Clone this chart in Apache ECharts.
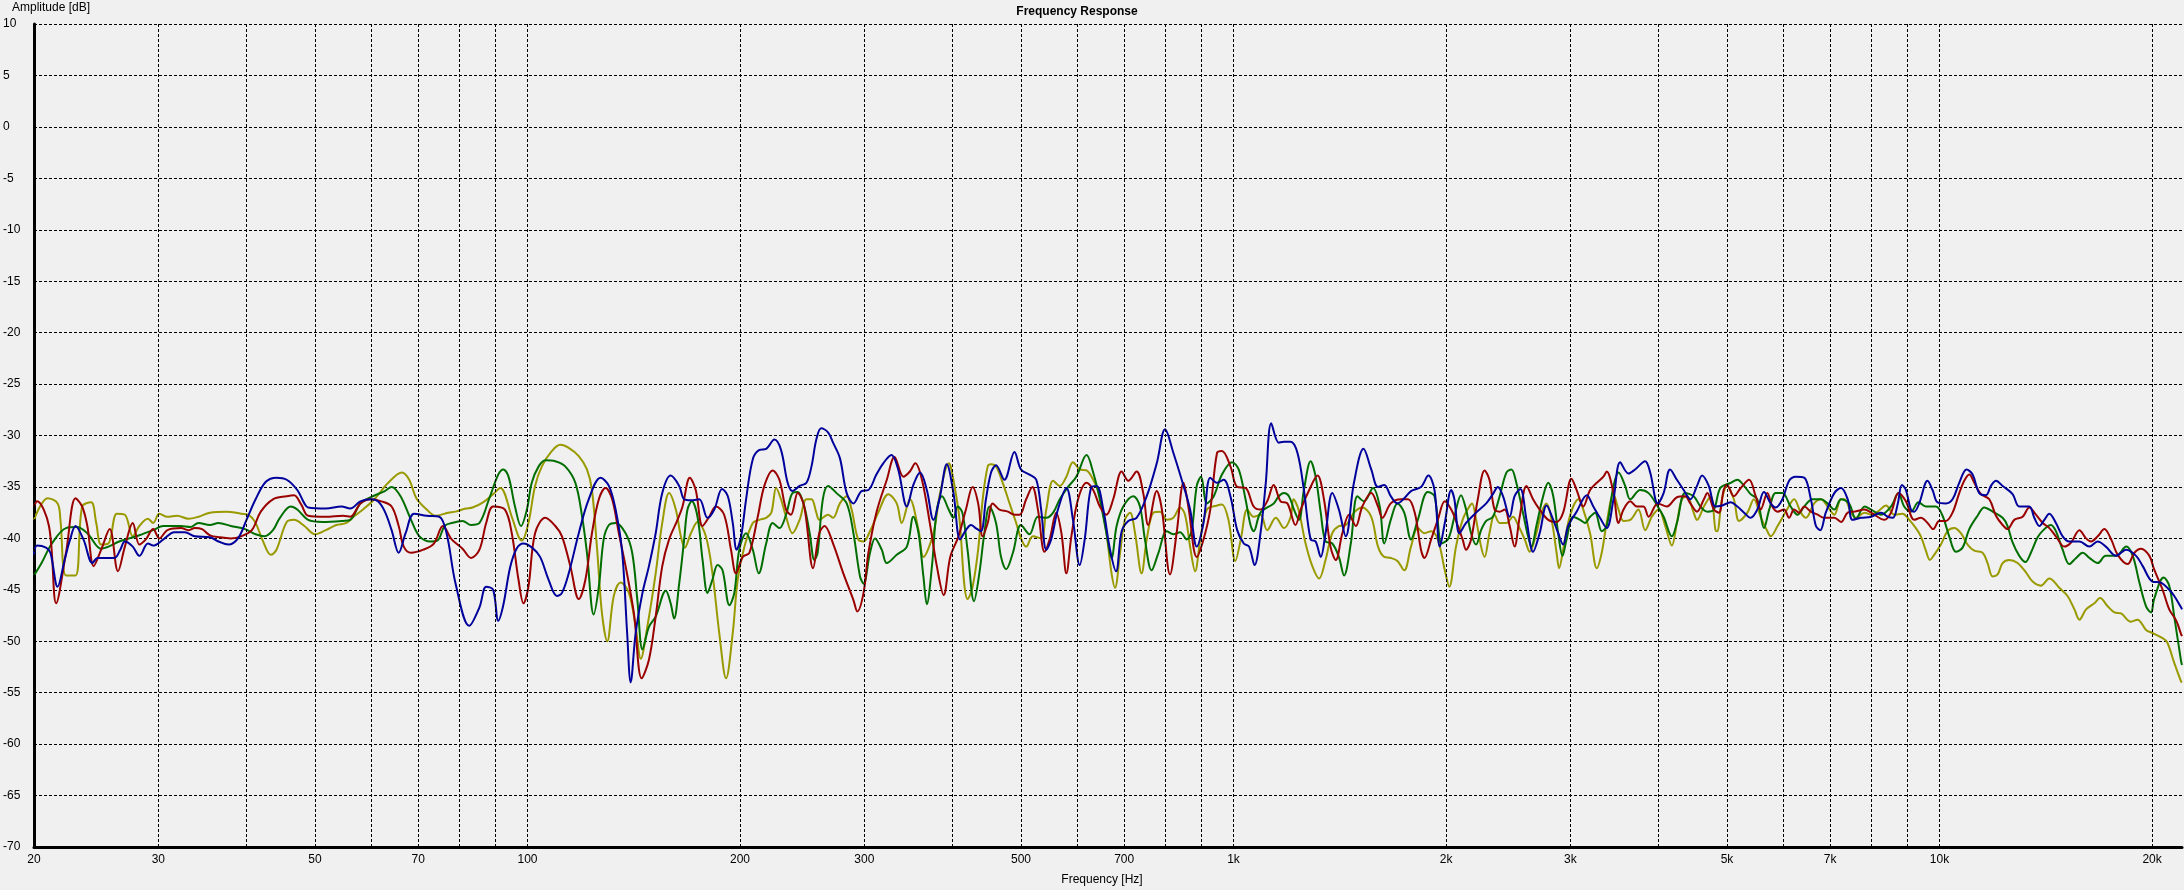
<!DOCTYPE html>
<html><head><meta charset="utf-8">
<script src="https://cdn.jsdelivr.net/npm/echarts@6/dist/echarts.min.js"></script>
<style>html,body{margin:0;padding:0;background:#f0f0f0}#c{width:2184px;height:890px}</style>
</head><body><div id="c"></div>
<script>
const FONT = '"Liberation Sans", Arial, sans-serif';
const gridFreqs = [20,30,40,50,60,70,80,90,100,200,300,400,500,600,700,800,900,1000,2000,3000,4000,5000,6000,7000,8000,9000,10000,20000];
const freqLabels = {20:'20',30:'30',50:'50',70:'70',100:'100',200:'200',300:'300',500:'500',700:'700',1000:'1k',2000:'2k',3000:'3k',5000:'5k',7000:'7k',10000:'10k',20000:'20k'};

const blue = [[20,-41.6],[20.2,-40.7],[20.8,-40.9],[21.1,-41.4],[21.6,-44.7],[22.1,-42.1],[22.5,-40.1],[22.9,-38.8],[23.5,-40.1],[24.2,-42.4],[24.6,-41.9],[25.2,-41.9],[26,-41.9],[26.5,-41.1],[26.9,-40.3],[27.6,-40.8],[28.2,-41.7],[29,-40.5],[29.5,-40.7],[30.5,-40.1],[31.6,-39.4],[32.7,-39.4],[33.8,-39.8],[35.5,-39.9],[36.5,-40.3],[37.7,-40.6],[38.9,-40],[40,-38.2],[41.2,-36.2],[42.6,-34.5],[44.1,-34.1],[45.6,-34.3],[47.2,-35.3],[48.3,-36.6],[48.9,-37],[51.8,-37.1],[54.5,-36.9],[56.1,-37.1],[58,-36.4],[60,-36.2],[61.4,-36.4],[62.8,-37.4],[64.2,-39.2],[65.7,-41.4],[67.2,-39.5],[69.1,-37.6],[72,-37.8],[75,-37.9],[76.8,-39.5],[79.1,-44.4],[82.7,-48.5],[85.5,-46.7],[87.4,-44.7],[89.4,-45],[90.9,-48],[92.4,-46.5],[94.5,-42.8],[96.5,-41],[98.7,-40.5],[101.5,-40.9],[104.2,-41.8],[107.1,-44],[110.1,-45.6],[111.9,-45.3],[114.4,-43.4],[118.2,-39.5],[122.1,-36.2],[126.9,-34.1],[130.4,-34.9],[133.3,-37.2],[136.2,-41.4],[138.4,-49.2],[140,-54],[142.3,-49.2],[145.5,-45.3],[148.6,-42.7],[151.9,-39.5],[155.2,-35.6],[159.5,-33.9],[164,-34.9],[166.7,-36.2],[170.4,-36.3],[175.1,-36.2],[179.9,-38],[183.9,-37.2],[188.6,-35.2],[192.2,-35.9],[195.3,-38.5],[197.8,-41.1],[200.7,-39.8],[204,-36.2],[208.5,-32.3],[213.1,-31.4],[217.8,-31.3],[223.7,-30.4],[228.6,-31.4],[233.6,-34.6],[237.3,-35.4],[242.9,-34.9],[248.4,-34.6],[252.5,-33],[256.5,-30.4],[260.6,-29.3],[266.5,-29.7],[270.9,-30.7],[277,-32.2],[283.2,-35.6],[289.5,-36.6],[297.3,-35.4],[304,-35.3],[312,-33.8],[319.1,-32.7],[327.7,-31.9],[335,-33.3],[344.6,-36.9],[352,-34.8],[359.8,-33.6],[367.8,-35.3],[375.8,-38.2],[384,-35.9],[392.5,-32.8],[401.2,-35.6],[410,-40.1],[417.8,-39.2],[424.8,-38.7],[431.4,-39],[438.7,-39.3],[446,-36.2],[453.5,-33.6],[460.9,-32.9],[473.7,-34.3],[489.5,-31.6],[500,-33.3],[514,-33.8],[525.6,-34.3],[534,-37.2],[543,-41.1],[551.7,-40.1],[564,-37.2],[579.8,-35.1],[592.4,-38.2],[605.6,-42.6],[615.5,-40.1],[629.2,-35],[640,-34.9],[654,-37.2],[668.5,-41.1],[681.7,-43.2],[694.4,-39.3],[709.6,-38.3],[729,-38],[753.5,-35.9],[778.5,-32.7],[800,-29.4],[822,-31.7],[849.6,-34.9],[868,-37.2],[887,-40.8],[906.7,-38.5],[927,-34.1],[947.6,-34.6],[968.5,-34.3],[990,-35.9],[1012,-39.2],[1034,-40.5],[1052,-40.8],[1071,-42.6],[1092,-39.5],[1111,-34.6],[1131,-28.8],[1159,-30.7],[1179,-30.6],[1205,-30.6],[1232,-31.7],[1258,-35.3],[1286,-40.1],[1307,-40.3],[1329,-41.8],[1350,-39.5],[1380,-35.6],[1410,-37.2],[1442,-39.8],[1481,-34.6],[1528,-31.3],[1567,-33.3],[1602,-35],[1635,-34.8],[1670,-35.9],[1707,-36.6],[1745,-36.1],[1784,-35.4],[1843,-35],[1888,-33.9],[1926,-35.3],[1960,-40.8],[1992,-38.5],[2034,-35.3],[2055,-36.2],[2089,-39.5],[2135,-38.5],[2206,-37.5],[2280,-36.6],[2330,-35.7],[2368,-35],[2408,-35.9],[2461,-37.9],[2501,-35.9],[2548,-35.2],[2600,-38.2],[2656,-41.3],[2714,-39.5],[2776,-36.8],[2837,-38.2],[2883,-39.5],[2930,-40.6],[2978,-38.8],[3062,-37.4],[3165,-35.8],[3233,-36.9],[3304,-38],[3377,-39],[3453,-36.2],[3529,-32.6],[3626,-33.7],[3705,-33.3],[3828,-32.5],[3892,-33.6],[3989,-36.6],[4066,-35.6],[4153,-33.3],[4246,-34.3],[4341,-35.3],[4436,-36.2],[4534,-34.9],[4610,-33.9],[4711,-34.9],[4815,-36.9],[4918,-36.8],[5060,-36.5],[5172,-36.9],[5286,-37.5],[5400,-38],[5519,-37.2],[5641,-35.5],[5765,-36.6],[5860,-37],[5990,-36.2],[6122,-34.4],[6257,-34],[6432,-34.1],[6573,-36.2],[6682,-38.8],[6777,-39.2],[6900,-37.5],[7095,-35.6],[7252,-35.1],[7412,-36.2],[7529,-38.2],[7740,-38],[8000,-37.9],[8262,-37.5],[8446,-37.9],[8590,-38],[8728,-36.6],[8843,-34.8],[8960,-35.3],[9108,-37.2],[9207,-37.4],[9358,-36.6],[9616,-34.4],[9774,-35.3],[9935,-36.5],[10209,-36.6],[10433,-36.2],[10663,-34.6],[10921,-33.3],[11138,-33.8],[11383,-35.6],[11634,-35.8],[11825,-34.9],[12020,-34.4],[12284,-34.9],[12690,-35.7],[12970,-36.9],[13400,-36.9],[13620,-38],[13848,-38.8],[14074,-38.2],[14305,-37.6],[14615,-38.5],[14940,-39.8],[15270,-40.3],[15780,-40.3],[16300,-40.8],[16750,-40.3],[17200,-40.8],[17784,-41.7],[18380,-41.1],[18984,-41.7],[19400,-42.7],[20020,-44.2],[20580,-44.3],[21150,-45],[21500,-45.6],[21980,-46.7],[22050,-46.9]];

const red = [[20,-36.9],[20.2,-36.4],[21,-38.8],[21.5,-46.3],[22.2,-41.4],[22.9,-36.1],[23.4,-36.9],[23.8,-38.8],[24.3,-42.7],[24.9,-41.1],[25.6,-39.1],[26.3,-43.2],[26.9,-40.8],[27.6,-38.5],[28.2,-40.6],[28.8,-40.1],[29.5,-39.1],[30.1,-40],[30.9,-39.2],[32.3,-39],[33.1,-39.2],[33.8,-39],[34.6,-39.1],[35.5,-39.7],[36.7,-39.9],[38,-40],[39.3,-39.8],[40.7,-39.2],[41.9,-37.4],[43.6,-36.2],[45.6,-35.9],[46.7,-35.8],[47.8,-36.7],[48.9,-37.8],[51.8,-37.9],[54.8,-37.8],[56.1,-37.9],[58,-36.6],[60,-36.2],[62.1,-36.4],[64.2,-36.9],[65.7,-38.8],[66.8,-40.8],[68.4,-41.4],[71.2,-41.1],[73.7,-40.5],[75.9,-38.8],[78.1,-40.1],[80.9,-41],[83.2,-41.9],[85.5,-41.1],[87.4,-38.5],[89.4,-36.9],[92.9,-37.2],[95,-39.5],[97.1,-44],[98.7,-46.3],[100.3,-44.7],[102.5,-39.5],[106,-38],[109.5,-38.8],[111.9,-39.8],[115,-42.7],[118.2,-45.9],[120.8,-44],[123.4,-39.5],[126.2,-36.2],[129,-35.1],[131.8,-36.2],[134.7,-39.5],[137.7,-42.7],[141.5,-47.3],[145.1,-53.6],[148.6,-51.8],[151.9,-47.6],[155.2,-42.7],[158.7,-40.1],[163.1,-38.2],[165.8,-36.9],[169.8,-34.1],[173.1,-35.3],[177,-38.8],[180.9,-37.9],[184.9,-36.9],[189.9,-37.7],[194.2,-41.1],[197.4,-43.4],[201.8,-41.8],[206.2,-41.4],[211.9,-37.9],[216.5,-34.9],[222.5,-33.4],[227.4,-34.3],[232.4,-37.2],[236.1,-37.7],[241.4,-35.6],[246.6,-36.9],[253.8,-42.9],[259,-39.5],[263.5,-38.8],[270.9,-40.5],[280.1,-43.4],[289.5,-46],[293.2,-47.1],[299.2,-45.3],[304,-41.4],[312,-37.5],[322.8,-34.3],[331,-32.1],[340.8,-34],[348,-33.5],[354.2,-32.7],[362,-34.3],[372,-38.8],[380,-42.7],[388.6,-45.5],[397,-41.8],[407.8,-39.8],[417.8,-37.2],[427,-35],[434.8,-36.6],[441.3,-39.8],[448.6,-38.5],[456,-36.6],[466.1,-37.2],[479,-37.4],[489.5,-37.7],[497.7,-37.7],[508.5,-36.2],[518.9,-35],[528.4,-37.2],[540,-41.3],[549,-40.1],[561,-37.5],[570.5,-39.5],[579.8,-43.4],[589.3,-39.8],[602.3,-36.2],[619.2,-34.6],[632.8,-35.3],[646.6,-36.9],[660.7,-37.7],[675.4,-36.2],[694.4,-33.5],[709.6,-34.4],[729,-33.5],[745,-35.6],[757,-38.7],[778.5,-35.4],[791.7,-37.2],[813,-43.5],[830.6,-39.5],[849.6,-34.6],[863,-36.9],[887,-41.8],[906.7,-40.1],[927,-37.2],[947.6,-31.7],[963,-31.5],[990,-33],[1012,-35],[1040,-35.1],[1068,-36.9],[1092,-37.2],[1116,-36.4],[1140,-34.8],[1166,-36.4],[1192,-36.6],[1224,-38.7],[1245,-37.2],[1280,-35.3],[1315,-33.9],[1343,-36.2],[1372,-40.8],[1396,-42.1],[1426,-39.5],[1458,-37.7],[1490,-38.8],[1522,-36.9],[1567,-35.6],[1602,-36.9],[1625,-38],[1670,-36.6],[1727,-36.2],[1767,-36.2],[1806,-37.5],[1843,-41.1],[1864,-41.9],[1905,-40.1],[1947,-38.2],[1992,-36.4],[2034,-37.2],[2066,-38.3],[2111,-40.1],[2135,-41.1],[2170,-40.1],[2218,-36.2],[2268,-33.4],[2304,-34.3],[2343,-37.2],[2382,-37.4],[2421,-37.2],[2461,-38.8],[2501,-40.8],[2543,-37.9],[2600,-34.9],[2656,-36.2],[2714,-37.2],[2791,-38.2],[2868,-38.4],[2930,-37.5],[3011,-34.2],[3062,-35.3],[3129,-36.9],[3199,-35.3],[3270,-34.6],[3341,-34],[3377,-33.5],[3453,-35.6],[3510,-38.5],[3568,-37.2],[3647,-36.4],[3725,-36.9],[3808,-36.9],[3872,-37.9],[3989,-36.6],[4110,-36.9],[4246,-36],[4362,-35.9],[4436,-36.6],[4534,-37.4],[4637,-36.2],[4689,-35.6],[4791,-37.2],[4870,-37.5],[4946,-35.3],[5000,-34.8],[5113,-35.9],[5229,-35.1],[5373,-34.3],[5490,-35.9],[5580,-37.2],[5703,-35.6],[5796,-36.9],[5896,-37.4],[6023,-37.2],[6122,-38],[6223,-37.2],[6324,-37.5],[6432,-36.9],[6573,-37.4],[6718,-37.7],[6861,-38],[7095,-38],[7252,-38.4],[7412,-37.5],[7579,-37.4],[7834,-37.2],[8000,-37.5],[8357,-38.2],[8536,-37.5],[8747,-35.6],[8960,-36.4],[9207,-38.2],[9409,-38],[9616,-38.5],[9795,-39.1],[9989,-38.3],[10209,-38.3],[10433,-37.5],[10663,-35.6],[10838,-34.4],[11018,-33.8],[11200,-34.6],[11445,-35.7],[11762,-36.2],[12020,-37.8],[12284,-38.7],[12484,-39.1],[12758,-38.2],[13113,-37.9],[13400,-37],[13694,-37.7],[14000,-38.5],[14305,-39],[14615,-39.8],[15020,-40.8],[15355,-40.4],[15780,-39.2],[16125,-40],[16390,-40.3],[16750,-39.8],[17120,-39.1],[17500,-40.1],[17880,-41.6],[18470,-42.5],[18880,-41.4],[19290,-41],[19826,-41.7],[20130,-43],[20700,-45],[21150,-46.9],[21640,-48],[21980,-49.3],[22050,-49.5]];

const green = [[20,-43.6],[20.5,-42.4],[21.2,-40.5],[22.2,-39],[23,-38.9],[23.8,-39.5],[24.9,-41],[25.5,-40.8],[26.4,-40.3],[27.3,-40],[28.2,-39.7],[29.5,-39.2],[30.5,-38.8],[32.3,-38.8],[33.3,-38.9],[34.2,-38.5],[35.5,-38.7],[36.5,-38.5],[38,-38.8],[39.8,-39.1],[41.2,-39.6],[42.4,-39.8],[43.6,-39.2],[44.6,-38],[46.2,-36.9],[47.2,-37.2],[48.9,-38.2],[51.2,-38.4],[54.8,-38.3],[56.1,-38.2],[58,-36.6],[60,-36],[62.8,-35.4],[64.2,-35],[66.1,-35.9],[68.4,-38.2],[70.3,-39.8],[72.9,-40.3],[74.6,-40.2],[76.3,-38.8],[78.1,-38.5],[80.9,-38.3],[83.2,-38.7],[85.5,-38.5],[88.3,-36.1],[90.9,-33.8],[92.4,-33.3],[94,-34],[96,-36.9],[97.9,-38.8],[99.8,-37.2],[101.4,-34.6],[103.7,-33],[106,-32.4],[109.5,-32.5],[113.1,-33],[116.9,-34.6],[119.5,-37.9],[121.4,-41.4],[124.1,-47.4],[126.2,-44.7],[128.2,-40.1],[130.4,-38.7],[133.3,-38.5],[137.7,-39.5],[140.7,-41.4],[143.1,-46],[145.5,-50.8],[148.6,-48.6],[151.9,-47.6],[157,-45.1],[159.5,-46.3],[161.3,-47.8],[164,-44.4],[166.7,-40.1],[168.5,-37.2],[170.9,-36.4],[174.1,-37.9],[177,-42.1],[179.9,-45.3],[182.8,-44],[185.9,-42.6],[188.9,-43.1],[193.2,-46.5],[196.3,-45.3],[199.5,-41.1],[204,-39.5],[208.5,-41.1],[212.6,-43.4],[217.8,-40.5],[222.5,-38.5],[227.4,-39],[232.4,-37.7],[237.3,-35.6],[241.4,-35.5],[246.6,-36.9],[251,-39.5],[254.9,-42.1],[257.6,-41.4],[262,-36.2],[266.5,-34.9],[274,-35.6],[283.2,-36.6],[289.5,-39.5],[295.8,-43.7],[299.2,-44.4],[305.6,-41.4],[310.6,-40],[317.5,-41.1],[322.8,-42.4],[333.4,-41.6],[344.6,-40.8],[352,-37.9],[358,-39.5],[363.7,-43.7],[367.8,-46.4],[374,-42.7],[380,-37.2],[386.5,-35.9],[395,-37.2],[401.2,-38],[406.6,-36.9],[413,-37.5],[420,-41.1],[429,-46.1],[436.5,-43.4],[443.7,-39.5],[451.2,-36.9],[460.9,-38.5],[468.5,-41.8],[476.4,-43],[487,-41.4],[500,-38.7],[514,-39.6],[528.4,-37.9],[543,-38],[555.3,-37.5],[567.4,-36.2],[582.9,-35],[598.9,-34],[619.2,-31.9],[632.8,-33.6],[646.6,-36.2],[660.7,-39.5],[671.8,-41.9],[683,-38.8],[698,-36.9],[721.2,-35.9],[737,-36.9],[749,-40.1],[765.6,-43.1],[782.8,-41.4],[804.4,-39.3],[822,-39.6],[840,-39.4],[858.6,-40.1],[872.5,-39.2],[887,-34.9],[899.5,-34],[917,-36.6],[937.6,-35.9],[963,-33.8],[995,-32.6],[1017,-33.3],[1040,-36.2],[1057,-38.7],[1068,-39.3],[1092,-37.5],[1140,-36.6],[1159,-35.9],[1179,-35.6],[1198,-35.9],[1218,-37.2],[1238,-38.2],[1258,-35.3],[1286,-32.5],[1307,-34],[1329,-37.5],[1350,-40.3],[1380,-40.5],[1410,-41.8],[1434,-43.6],[1466,-40.5],[1498,-35.9],[1531,-36.4],[1576,-35.1],[1611,-36.9],[1635,-40.5],[1670,-38.2],[1707,-36.6],[1745,-37.5],[1784,-40.1],[1824,-38.2],[1884,-35.5],[1926,-35.9],[1972,-40.5],[2012,-40.1],[2034,-39.2],[2055,-37.9],[2100,-35.8],[2135,-37.2],[2170,-39.5],[2206,-40.6],[2242,-39.2],[2280,-38.3],[2330,-37.9],[2382,-35.9],[2435,-33.6],[2475,-33.3],[2515,-34.6],[2570,-37.5],[2613,-39.8],[2642,-40.8],[2685,-38.8],[2745,-35.9],[2791,-34.6],[2837,-35.9],[2883,-39.5],[2924,-41.7],[2963,-40.1],[3028,-37.9],[3096,-38.2],[3146,-38.5],[3199,-37.9],[3252,-37.5],[3323,-39.3],[3377,-38.8],[3453,-34.9],[3510,-33.6],[3587,-34.9],[3647,-36.2],[3767,-35.3],[3872,-35.6],[3989,-36.9],[4066,-37.9],[4177,-39.8],[4246,-38.5],[4362,-35.6],[4485,-35.9],[4585,-36.9],[4689,-37.4],[4791,-37.2],[4893,-35.1],[5060,-34.6],[5172,-34.3],[5286,-34.9],[5400,-35.7],[5519,-36.2],[5641,-39],[5738,-37.2],[5860,-35.6],[5990,-35.6],[6153,-36.9],[6292,-37.7],[6432,-36.9],[6608,-36.2],[6794,-36.2],[6939,-36.6],[7095,-37.2],[7252,-36.2],[7443,-36.6],[7612,-38.1],[7834,-36.9],[8000,-37.2],[8262,-37.7],[8536,-36.9],[8747,-35.6],[8910,-36.9],[9108,-37.4],[9338,-36.5],[9564,-36.9],[9881,-36.9],[10098,-37.8],[10321,-39.8],[10547,-41.3],[10779,-40.9],[11018,-39.1],[11320,-37.8],[11570,-37],[11890,-37.4],[12284,-38],[12484,-38.8],[12690,-40.4],[12970,-41.7],[13230,-42.3],[13470,-41.4],[13770,-39.9],[14074,-39.1],[14380,-38.7],[14615,-39.3],[14940,-41.1],[15270,-42.5],[15610,-41.9],[15950,-41.4],[16300,-41.9],[16750,-42.4],[17200,-41.7],[17784,-41.7],[18380,-40.8],[18779,-41.7],[19190,-44.3],[19610,-46.6],[19935,-47.2],[20130,-45.9],[20770,-43.8],[21150,-44.6],[21500,-47.6],[21980,-51.9],[22050,-52.3]];

const olive = [[20,-38.2],[20.4,-36.9],[20.9,-36.1],[21.6,-36.6],[21.8,-38.2],[22.2,-43.6],[22.9,-43.6],[23.4,-36.9],[24.1,-36.5],[24.5,-38.5],[24.9,-40.6],[25.5,-40.5],[26.2,-37.6],[26.9,-37.7],[27.6,-39.8],[28.2,-38.8],[29,-38.1],[29.5,-38.5],[30.1,-37.6],[30.9,-37.9],[31.9,-37.8],[33.1,-38.1],[34.2,-37.9],[35.5,-37.5],[37.5,-37.4],[39.3,-37.6],[40.2,-37.7],[41.2,-38.5],[42.1,-40.1],[43.3,-41.6],[44.1,-41.1],[45.6,-38.4],[46.7,-38.2],[48.3,-38.8],[50,-39.6],[51.8,-39.2],[53.6,-38.7],[55.4,-38.5],[56.7,-37.9],[58.7,-37.1],[60.7,-36.2],[63.5,-34.6],[66.4,-33.6],[68,-34.3],[69.6,-36.1],[72,-37.2],[74.1,-37.8],[77.2,-37.5],[79.1,-37.4],[81.8,-37.1],[83.6,-37],[86.5,-36.5],[89.4,-35.7],[91.5,-35.1],[95,-37.9],[97.1,-39.8],[98.2,-40.2],[100.3,-38.5],[102.5,-34.9],[104.8,-33],[108.3,-31.5],[111.3,-30.9],[114.4,-31.2],[118.2,-32],[121.4,-33.3],[123.4,-35.3],[125.5,-41.1],[127.5,-47.3],[129.7,-50],[132.5,-45.6],[135.5,-44.3],[139.2,-45.3],[142.3,-48.6],[144.7,-51.7],[147.8,-48.6],[151.9,-43.4],[155.2,-38.5],[158.7,-35.6],[162.2,-37.2],[164.9,-39.8],[167,-40.9],[170.4,-39.5],[174.1,-38.4],[178.9,-39.8],[182.8,-43.4],[186.9,-49.2],[191.1,-53.6],[195.3,-49.2],[198.5,-44],[202.9,-40.8],[208.5,-38.5],[213.1,-38.2],[217.8,-38],[221.5,-37.5],[225,-35.1],[228.6,-36.2],[232.4,-37.9],[237.3,-39.5],[242.9,-38.2],[248.4,-36.2],[252.5,-36.2],[256.5,-37.5],[259,-38.2],[266.5,-37.7],[270.9,-38],[277,-36.6],[283.2,-35.9],[287.8,-37.2],[294,-40.1],[299.2,-40.3],[305.6,-39.3],[313.9,-37.5],[324.4,-35.7],[333.4,-36.6],[338.8,-38.5],[348,-36.2],[358,-39.2],[363.7,-41.8],[375.8,-39.5],[384,-35.6],[395.3,-32.7],[398.5,-33.3],[408.8,-37.9],[415.5,-44.4],[420,-45.9],[427,-44.7],[434.8,-41.1],[441.3,-36.2],[448.6,-33],[453.5,-32.8],[460.9,-33],[471.1,-34.6],[481.7,-36.6],[492.2,-38.5],[500,-40],[508.5,-40.8],[519.8,-39.8],[534,-40],[543,-37.2],[555.3,-34.4],[567.4,-34.9],[579.8,-34],[592.4,-32.6],[605.6,-33.3],[619.2,-33.4],[632.8,-34.3],[646.6,-35.9],[660.7,-39.5],[671.8,-43.4],[679.4,-44.8],[690.8,-41.4],[701.7,-38.2],[713.6,-37.5],[725.3,-39.5],[741,-43.4],[753.5,-40.1],[770,-37.5],[787,-37.4],[804.4,-38.2],[822,-38],[840,-37],[853.7,-37.7],[868,-40.8],[882.3,-43.2],[897.3,-40.1],[917,-37.2],[947.6,-36.8],[963,-36.7],[983.6,-38.2],[1006,-42.2],[1024,-40.1],[1046,-37.2],[1068,-37.9],[1092,-37.7],[1116,-39.2],[1148,-38],[1179,-39],[1205,-37.9],[1216,-36.2],[1236,-37.2],[1265,-40.5],[1293,-42.7],[1322,-43.9],[1350,-42.1],[1380,-39.5],[1410,-38.8],[1442,-38.7],[1481,-37.5],[1522,-37],[1567,-37.9],[1602,-40.8],[1635,-41.8],[1670,-41.9],[1707,-42.2],[1745,-43.1],[1784,-40.8],[1824,-39],[1864,-39.5],[1905,-39.3],[1947,-40.1],[1992,-43.1],[2021,-44.7],[2066,-40.8],[2111,-38.2],[2158,-36.9],[2177,-36.6],[2206,-38.2],[2242,-40.8],[2268,-41.8],[2304,-39.5],[2343,-37.7],[2382,-38.5],[2435,-38.5],[2488,-37.9],[2529,-38.7],[2585,-40.1],[2628,-41.3],[2685,-39.5],[2730,-37.5],[2776,-36.6],[2822,-38.2],[2868,-41.4],[2892,-42.9],[2930,-41.1],[2978,-38.5],[3028,-36.9],[3079,-36.2],[3129,-37.2],[3199,-39.5],[3270,-42.9],[3323,-41.4],[3377,-38.5],[3453,-35.7],[3510,-37.2],[3568,-38.3],[3647,-38.2],[3745,-37.2],[3828,-39.2],[3913,-37.9],[4000,-37.2],[4088,-38.8],[4177,-40.7],[4246,-38.5],[4315,-36.2],[4389,-35.9],[4485,-37.5],[4534,-38.2],[4637,-36.9],[4741,-35.9],[4815,-39.2],[4842,-39.3],[4918,-36.2],[5000,-34.9],[5113,-36.2],[5201,-38.3],[5344,-37.5],[5458,-36.2],[5580,-37.9],[5703,-39.3],[5767,-39.8],[5896,-38.8],[6081,-37.2],[6223,-36.2],[6361,-37.5],[6467,-38],[6645,-36.6],[6794,-36.2],[6939,-36.9],[7095,-37.7],[7252,-36.2],[7335,-36.2],[7493,-37.5],[7612,-38],[7834,-37.5],[8000,-37.7],[8176,-37.4],[8399,-36.8],[8630,-37.7],[8863,-37.6],[9060,-38.2],[9256,-39],[9409,-39.8],[9564,-41.2],[9690,-42.1],[9827,-41.6],[10044,-40.6],[10265,-39.3],[10490,-39],[10720,-39.5],[10957,-40.6],[11200,-41.2],[11507,-41.4],[11695,-42.4],[11890,-43.7],[12085,-43.5],[12284,-42.4],[12553,-42.1],[12900,-42.4],[13253,-43.3],[13548,-44.2],[13920,-44.6],[14305,-43.9],[14776,-44.8],[15180,-45.6],[15526,-46.9],[15780,-47.9],[16125,-46.9],[16570,-46.3],[16877,-45.8],[17305,-46.6],[17690,-47.2],[18075,-47.3],[18665,-48.1],[19076,-47.9],[19610,-48.9],[20020,-49.2],[20700,-49.7],[21010,-50.1],[21500,-52.1],[21980,-53.9],[22050,-54]];

const seriesDefs = [
  {name:'olive', data: olive, color:'#999900'},
  {name:'green', data: green, color:'#006e00'},
  {name:'red',   data: red,   color:'#9a0000'},
  {name:'blue',  data: blue,  color:'#00009c'}
];

const chart = echarts.init(document.getElementById('c'), null, {renderer:'canvas'});
const dash = [3, 2];
chart.setOption({
  animation: false,
  backgroundColor: '#f0f0f0',
  grid: {left: 34, right: 2, top: 24, bottom: 43, containLabel: false},
  xAxis: {
    type: 'log', logBase: 10, min: 20, max: 22050,
    axisLine: {show: true, onZero: false, lineStyle: {color: '#000', width: 3}},
    axisTick: {show: false}, axisLabel: {show: false}, splitLine: {show: false}, minorTick: {show: false}
  },
  yAxis: {
    type: 'value', min: -70, max: 10, interval: 5,
    axisLine: {show: true, onZero: false, lineStyle: {color: '#000', width: 3}},
    axisTick: {show: false},
    axisLabel: {align: 'left', margin: 31, color: '#000', fontSize: 12, fontFamily: FONT},
    splitLine: {show: true, lineStyle: {color: '#000', type: dash, width: 1}}
  },
  graphic: [
    {type: 'text', x: 12, y: 8, style: {text: 'Amplitude [dB]', font: '12px ' + FONT, fill: '#000', align: 'left', verticalAlign: 'middle', textAlign: 'left', textVerticalAlign: 'middle'}},
    {type: 'text', x: 1077, y: 12, style: {text: 'Frequency Response', font: 'bold 12px ' + FONT, fill: '#000', align: 'center', verticalAlign: 'middle', textAlign: 'center', textVerticalAlign: 'middle'}},
    {type: 'text', x: 1102, y: 880, style: {text: 'Frequency [Hz]', font: '12px ' + FONT, fill: '#000', align: 'center', verticalAlign: 'middle', textAlign: 'center', textVerticalAlign: 'middle'}}
  ],
  series: [
    {
      type: 'line', name: 'grid', data: [], silent: true, z: 1,
      markLine: {
        silent: true, symbol: ['none', 'none'], animation: false,
        lineStyle: {color: '#000', type: dash, width: 1},
        label: {position: 'start', distance: 7, color: '#000', fontSize: 12, fontFamily: FONT},
        emphasis: {disabled: true},
        data: gridFreqs.map(f => ({
          xAxis: f,
          label: {show: !!freqLabels[f], formatter: freqLabels[f] || ''}
        }))
      }
    }
  ].concat(seriesDefs.map(s => ({
    type: 'line', name: s.name, data: s.data, showSymbol: false, symbol: 'none',
    smooth: 0.35, silent: true, z: 3,
    lineStyle: {color: s.color, width: 2}
  })))
});
</script>
</body></html>
